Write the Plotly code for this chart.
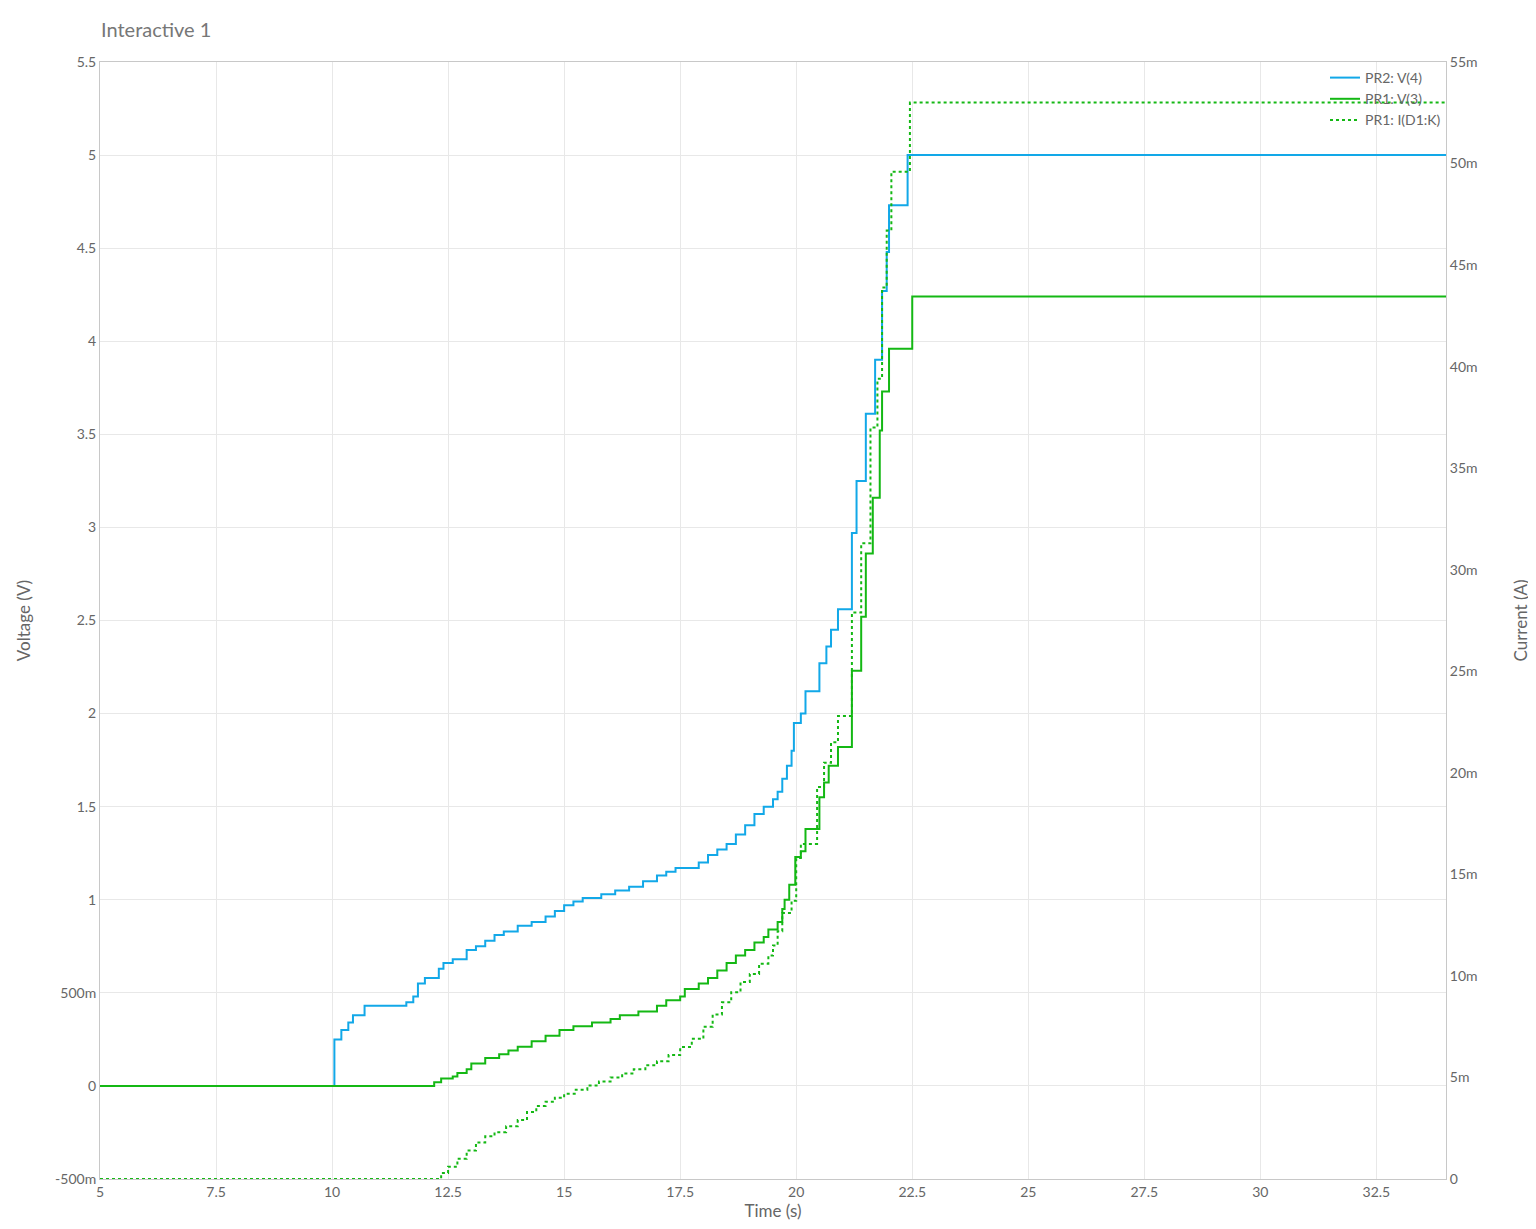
import plotly.graph_objects as go

v4_t = [5, 10.05, 10.05, 10.2, 10.35, 10.45, 10.7, 11.6, 11.75, 11.85, 12.0, 12.3, 12.4, 12.6, 12.9, 13.1, 13.3, 13.5, 13.7, 14.0, 14.3, 14.6, 14.8, 15.0, 15.2, 15.4, 15.8, 16.1, 16.4, 16.7, 17.0, 17.2, 17.4, 17.9, 18.1, 18.3, 18.5, 18.7, 18.9, 19.1, 19.3, 19.5, 19.6, 19.7, 19.8, 19.9, 19.95, 20.1, 20.2, 20.5, 20.65, 20.75, 20.9, 21.2, 21.3, 21.5, 21.7, 21.85, 21.95, 22.0, 22.4, 34]
v4_v = [0, 0, 0.25, 0.30, 0.34, 0.38, 0.43, 0.45, 0.48, 0.55, 0.58, 0.63, 0.66, 0.68, 0.73, 0.75, 0.78, 0.81, 0.83, 0.86, 0.88, 0.91, 0.94, 0.97, 0.99, 1.01, 1.03, 1.05, 1.07, 1.10, 1.13, 1.15, 1.17, 1.20, 1.24, 1.27, 1.30, 1.35, 1.40, 1.46, 1.50, 1.54, 1.58, 1.65, 1.72, 1.80, 1.95, 2.0, 2.12, 2.27, 2.36, 2.45, 2.56, 2.97, 3.25, 3.61, 3.90, 4.27, 4.48, 4.73, 5.0, 5.0]

v3_t = [5, 12.2, 12.35, 12.6, 12.7, 12.9, 13.0, 13.3, 13.6, 13.8, 14.0, 14.3, 14.6, 14.9, 15.2, 15.6, 16.0, 16.2, 16.6, 17.0, 17.2, 17.5, 17.6, 17.9, 18.1, 18.3, 18.5, 18.7, 18.9, 19.1, 19.3, 19.4, 19.6, 19.7, 19.75, 19.85, 19.98, 20.1, 20.2, 20.5, 20.6, 20.7, 20.9, 21.2, 21.4, 21.5, 21.65, 21.8, 21.85, 22.0, 22.5, 34]
v3_v = [0, 0.02, 0.04, 0.05, 0.07, 0.09, 0.12, 0.15, 0.17, 0.19, 0.21, 0.24, 0.27, 0.30, 0.32, 0.34, 0.36, 0.38, 0.40, 0.43, 0.46, 0.48, 0.52, 0.55, 0.58, 0.62, 0.66, 0.70, 0.73, 0.77, 0.80, 0.84, 0.88, 0.95, 1.0, 1.08, 1.23, 1.26, 1.38, 1.55, 1.63, 1.72, 1.82, 2.23, 2.52, 2.86, 3.16, 3.52, 3.73, 3.96, 4.24, 4.24]

id_t = [5, 12.2, 12.35, 12.5, 12.7, 12.9, 13.1, 13.3, 13.5, 13.75, 14.0, 14.2, 14.4, 14.6, 14.8, 15.0, 15.25, 15.5, 15.75, 16.0, 16.25, 16.5, 16.75, 17.0, 17.25, 17.5, 17.75, 18.0, 18.2, 18.4, 18.6, 18.8, 19.0, 19.2, 19.4, 19.5, 19.6, 19.7, 19.9, 20.0, 20.1, 20.45, 20.6, 20.75, 20.9, 21.2, 21.4, 21.6, 21.75, 21.85, 21.95, 22.05, 22.45, 34]
id_ma = [0, 0, 0.3, 0.6, 1.0, 1.4, 1.8, 2.1, 2.3, 2.6, 2.9, 3.3, 3.6, 3.8, 4.0, 4.2, 4.4, 4.6, 4.8, 5.0, 5.2, 5.4, 5.6, 5.8, 6.1, 6.5, 6.9, 7.5, 8.1, 8.7, 9.2, 9.7, 10.1, 10.6, 11.0, 11.5, 12.2, 13.1, 13.7, 15.8, 16.5, 19.3, 20.5, 21.5, 22.8, 27.9, 31.3, 37.0, 39.4, 43.9, 46.7, 49.6, 53.0, 53.0]

left_vals = [-0.5, 0, 0.5, 1, 1.5, 2, 2.5, 3, 3.5, 4, 4.5, 5, 5.5]
left_text = ["-500m", "0", "500m", "1", "1.5", "2", "2.5", "3", "3.5", "4", "4.5", "5", "5.5"]
right_vals = [0, 5, 10, 15, 20, 25, 30, 35, 40, 45, 50, 55]
right_text = ["0"] + [f"{v}m" for v in right_vals[1:]]
x_vals = [5, 7.5, 10, 12.5, 15, 17.5, 20, 22.5, 25, 27.5, 30, 32.5]

blue = "#12a8e8"
green = "#14b814"

fig = go.Figure()
fig.add_trace(go.Scatter(x=v4_t, y=v4_v, name="PR2: V(4)", mode="lines", line=dict(color=blue, width=2, shape="hv")))
fig.add_trace(go.Scatter(x=v3_t, y=v3_v, name="PR1: V(3)", mode="lines", line=dict(color=green, width=2, shape="hv")))
fig.add_trace(go.Scatter(x=id_t, y=id_ma, name="PR1: I(D1:K)", mode="lines", yaxis="y2", line=dict(color=green, width=2, dash="dot", shape="hv")))

ax = dict(showgrid=True, gridcolor="#e8e8e8", showline=True, linecolor="#c8c8c8", zeroline=False, ticks="", automargin=False, tickfont=dict(color="#666", size=14))
fig.update_layout(
    width=1536, height=1229,
    margin=dict(l=92, r=98, t=54, b=58),
    paper_bgcolor="white", plot_bgcolor="white",
    font=dict(family="Lato", color="#666", size=14),
    title=dict(text="Interactive 1", x=93/1536, xanchor="left", y=1-22/1229, yanchor="middle", font=dict(size=20, color="#777")),
    xaxis=dict(ax, range=[5, 34], tickvals=x_vals, title=dict(text="Time (s)", standoff=6), mirror=True),
    yaxis=dict(ax, range=[-0.5, 5.5], tickvals=left_vals, ticktext=left_text, title=dict(text="Voltage (V)", standoff=20), mirror=True),
    yaxis2=dict(ax, range=[0, 55], tickvals=right_vals, ticktext=right_text, overlaying="y", side="right", showgrid=False, title=dict(text="Current (A)", standoff=38)),
    legend=dict(x=1, y=1, xanchor="right", yanchor="top", bgcolor="rgba(0,0,0,0)", font=dict(size=14, color="#666"), tracegroupgap=0, itemwidth=30),
    showlegend=True,
)
fig.write_html("out.html")
